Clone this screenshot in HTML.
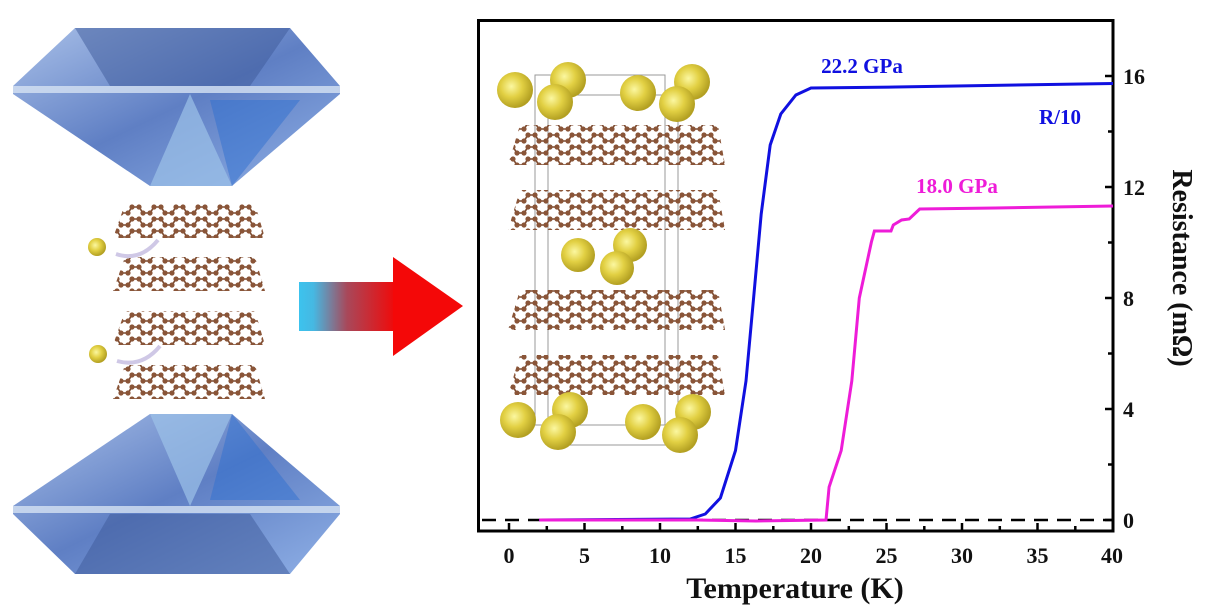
<!DOCTYPE html>
<html><head><meta charset="utf-8"><style>
html,body{margin:0;padding:0;background:#fff;width:1212px;height:609px;overflow:hidden}
svg{display:block}
text{font-family:"Liberation Serif",serif;font-weight:bold}
</style></head><body>
<svg width="1212" height="609" viewBox="0 0 1212 609" xmlns="http://www.w3.org/2000/svg">
<defs>
<linearGradient id="dia" x1="0" y1="0" x2="1" y2="1">
<stop offset="0" stop-color="#a9c0e8"/><stop offset="0.5" stop-color="#5f7fc4"/><stop offset="1" stop-color="#8fb0e6"/></linearGradient>
<linearGradient id="arr" x1="0" y1="0" x2="1" y2="0">
<stop offset="0" stop-color="#3cc3ee"/><stop offset="0.15" stop-color="#46b8e2"/><stop offset="0.5" stop-color="#a8485a"/><stop offset="1" stop-color="#f00a0a"/></linearGradient>
<radialGradient id="ball" cx="0.4" cy="0.4" r="0.6"><stop offset="0" stop-color="#fbf7a0"/><stop offset="0.5" stop-color="#e2d043"/><stop offset="1" stop-color="#b3a022"/></radialGradient>
<pattern id="gr" width="22" height="12" patternUnits="userSpaceOnUse">
<path d="M0 3 L7 3 L11 9 L18 9 L22 3" stroke="#7a4a30" stroke-width="1.6" fill="none"/>
<circle cx="7" cy="3" r="2.6" fill="#8a5538"/><circle cx="11" cy="9" r="2.6" fill="#8a5538"/><circle cx="18" cy="9" r="2.6" fill="#8a5538"/><circle cx="0" cy="3" r="2.6" fill="#8a5538"/><circle cx="22" cy="3" r="2.6" fill="#8a5538"/>
</pattern>
</defs>

<!-- top diamond -->
<polygon points="75,28 290,28 340,86 340,94 232,186 150,186 13,94 13,86" fill="url(#dia)"/>
<polygon points="75,28 290,28 250,86 110,86" fill="#3e5a9a" opacity="0.5"/>
<polygon points="150,186 232,186 190,94" fill="#9cc2e8" opacity="0.7"/>
<polygon points="210,100 300,100 232,186" fill="#2f6fcf" opacity="0.5"/>
<rect x="13" y="86" width="327" height="7" fill="#d6e2f3" opacity="0.8"/>
<!-- bottom diamond -->
<polygon points="150,414 232,414 340,506 340,514 290,574 75,574 13,514 13,506" fill="url(#dia)"/>
<polygon points="75,574 290,574 250,514 110,514" fill="#3e5a9a" opacity="0.5"/>
<polygon points="150,414 232,414 190,506" fill="#9cc2e8" opacity="0.7"/>
<polygon points="210,500 300,500 232,414" fill="#2f6fcf" opacity="0.5"/>
<rect x="13" y="506" width="327" height="7" fill="#d6e2f3" opacity="0.8"/>

<!-- graphene layers left -->
<polygon points="125,204 255,204 265,238 113,238" fill="url(#gr)"/>
<polygon points="125,257 255,257 265,291 113,291" fill="url(#gr)"/>
<polygon points="125,311 255,311 265,345 113,345" fill="url(#gr)"/>
<polygon points="125,365 255,365 265,399 113,399" fill="url(#gr)"/>
<circle cx="97" cy="247" r="9" fill="url(#ball)"/>
<circle cx="98" cy="354" r="9" fill="url(#ball)"/>
<path d="M116 254 Q140 262 158 240" stroke="#cfc8e6" stroke-width="4" fill="none"/>
<path d="M117 361 Q142 368 160 346" stroke="#cfc8e6" stroke-width="4" fill="none"/>

<!-- arrow -->
<rect x="299" y="282" width="96" height="49" fill="url(#arr)"/>
<polygon points="393,257 393,356 463,306" fill="#f40808"/>

<!-- inset crystal -->
<g stroke="#999" stroke-width="1" fill="none">
<rect x="535" y="75" width="130" height="350"/><rect x="548" y="95" width="130" height="350"/>
</g>
<polygon points="520,125 718,125 725,165 508,165" fill="url(#gr)"/>
<polygon points="520,190 718,190 725,230 508,230" fill="url(#gr)"/>
<polygon points="520,290 718,290 725,330 508,330" fill="url(#gr)"/>
<polygon points="520,355 718,355 725,395 508,395" fill="url(#gr)"/>
<g fill="url(#ball)">
<circle cx="515" cy="90" r="18"/><circle cx="568" cy="80" r="18"/><circle cx="555" cy="102" r="18"/>
<circle cx="638" cy="93" r="18"/><circle cx="692" cy="82" r="18"/><circle cx="677" cy="104" r="18"/>
<circle cx="578" cy="255" r="17"/><circle cx="630" cy="245" r="17"/><circle cx="617" cy="268" r="17"/>
<circle cx="518" cy="420" r="18"/><circle cx="570" cy="410" r="18"/><circle cx="558" cy="432" r="18"/>
<circle cx="643" cy="422" r="18"/><circle cx="693" cy="412" r="18"/><circle cx="680" cy="435" r="18"/>
</g>

<!-- plot frame -->
<rect x="478.5" y="20.5" width="634.5" height="510.5" fill="none" stroke="#000" stroke-width="3"/>
<g stroke="#000" stroke-width="2.5">
<line x1="509" y1="531" x2="509" y2="523"/><line x1="584.5" y1="531" x2="584.5" y2="523"/><line x1="660" y1="531" x2="660" y2="523"/><line x1="735.5" y1="531" x2="735.5" y2="523"/><line x1="811" y1="531" x2="811" y2="523"/><line x1="886.5" y1="531" x2="886.5" y2="523"/><line x1="962" y1="531" x2="962" y2="523"/><line x1="1037.5" y1="531" x2="1037.5" y2="523"/>
<line x1="546.8" y1="531" x2="546.8" y2="526"/><line x1="622.3" y1="531" x2="622.3" y2="526"/><line x1="697.8" y1="531" x2="697.8" y2="526"/><line x1="773.3" y1="531" x2="773.3" y2="526"/><line x1="848.8" y1="531" x2="848.8" y2="526"/><line x1="924.3" y1="531" x2="924.3" y2="526"/><line x1="999.8" y1="531" x2="999.8" y2="526"/><line x1="1075.3" y1="531" x2="1075.3" y2="526"/>
<line x1="1113" y1="520" x2="1105" y2="520"/><line x1="1113" y1="409" x2="1105" y2="409"/><line x1="1113" y1="298" x2="1105" y2="298"/><line x1="1113" y1="187" x2="1105" y2="187"/><line x1="1113" y1="76" x2="1105" y2="76"/>
<line x1="1113" y1="464.5" x2="1108" y2="464.5"/><line x1="1113" y1="353.5" x2="1108" y2="353.5"/><line x1="1113" y1="242.5" x2="1108" y2="242.5"/><line x1="1113" y1="131.5" x2="1108" y2="131.5"/>
</g>
<line x1="482" y1="520" x2="1112" y2="520" stroke="#000" stroke-width="2.5" stroke-dasharray="14,9"/>

<!-- curves -->
<polyline fill="none" stroke="#1010e0" stroke-width="3" points="539.2,520 690.2,519 705.3,514 720.4,498 735.5,450.5 746,381 753.6,298 761.2,214 770.2,145 780.8,114 795.9,95 811,88 895.6,87 1113,83.5"/>
<polyline fill="none" stroke="#ee1cd8" stroke-width="3" points="539.2,520 696.7,520 756,521 826,520 829.1,487 841.2,450.5 851.8,381 859.3,298 871.4,242 874.4,231 880.5,231 891,231 893.3,225 901.6,220 909.2,219 919.7,209 995.2,208 1113,206"/>

<!-- labels -->
<g font-size="22" text-anchor="middle" fill="#111">
<text x="509" y="563">0</text><text x="584.5" y="563">5</text><text x="660" y="563">10</text><text x="735.5" y="563">15</text><text x="811" y="563">20</text><text x="886.5" y="563">25</text><text x="962" y="563">30</text><text x="1037.5" y="563">35</text><text x="1112" y="563">40</text>
</g>
<g font-size="22" fill="#111">
<text x="1123" y="528">0</text><text x="1123" y="417">4</text><text x="1123" y="306">8</text><text x="1123" y="195">12</text><text x="1123" y="84">16</text>
</g>
<text x="795" y="598" font-size="30" text-anchor="middle" fill="#111">Temperature (K)</text>
<text transform="translate(1173,268) rotate(90)" font-size="28" text-anchor="middle" fill="#111">Resistance (mΩ)</text>
<text x="862" y="73" font-size="21" text-anchor="middle" fill="#1010e0">22.2 GPa</text>
<text x="1060" y="124" font-size="21" text-anchor="middle" fill="#1010e0">R/10</text>
<text x="957" y="193" font-size="21" text-anchor="middle" fill="#ee1cd8">18.0 GPa</text>
</svg>
</body></html>
